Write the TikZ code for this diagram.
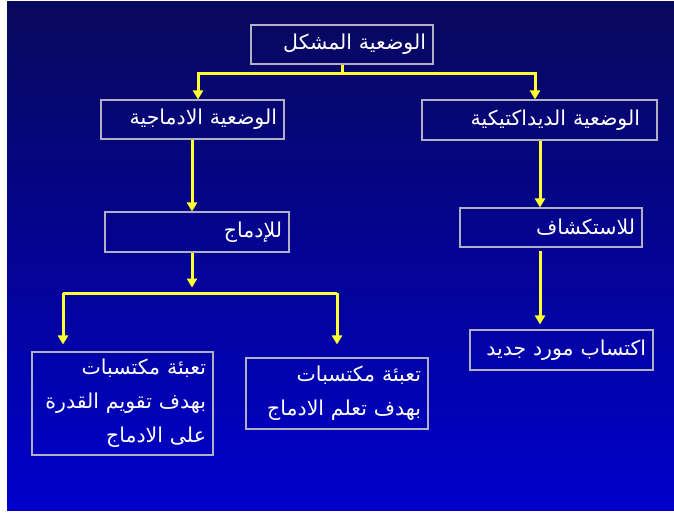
\documentclass[tikz,border=0pt]{standalone}
\usepackage{fontspec}
\newfontfamily\arabicfont[Script=Arabic]{DejaVu Sans}
\TeXXeTstate=1
\usetikzlibrary{arrows.meta}
\definecolor{bgtop}{RGB}{8,8,92}
\definecolor{bgbot}{RGB}{0,0,204}
\definecolor{boxline}{RGB}{176,176,192}
\definecolor{conn}{RGB}{255,255,50}
\begin{document}
\begin{tikzpicture}[x=1pt,y=-1pt,
  box/.style={draw=boxline, line width=1.1pt, text=white, align=right,
    inner xsep=7pt, inner ysep=0pt,
    font=\arabicfont\fontsize{20.5pt}{34pt}\selectfont},
  yline/.style={draw=conn, line width=3pt},
  yarrow/.style={yline, -{Triangle[width=10pt,length=9pt]}}]
\useasboundingbox (0,0) rectangle (674,513);
\fill[white] (0,0) rectangle (674,513);
\shade[top color=bgtop, bottom color=bgbot] (7,2) rectangle (674,510);

\node[box, text width=168pt, minimum height=39pt] (top) at (342,44.5) {\beginR الوضعية المشكل\endR};
\node[box, text width=169pt, minimum height=39pt] (lsit) at (192.5,119.5) {\beginR الوضعية الادماجية\endR};
\node[box, text width=221pt, minimum height=40pt] (rsit) at (539.5,120) {\beginR الوضعية الديداكتيكية\endR\hspace*{10pt}};
\node[box, text width=170pt, minimum height=40pt] (lint) at (197,232) {\beginR للإدماج\endR};
\node[box, text width=168pt, minimum height=39pt] (rexp) at (551,227.5) {\beginR للاستكشاف\endR};
\node[box, text width=169pt, minimum height=40pt] (racq) at (561.5,350) {\beginR اكتساب مورد جديد\endR};
\node[box, text width=167pt, minimum height=103pt] (lb1) at (122.5,403.5) {\beginR تعبئة مكتسبات\endR\\ \beginR بهدف تقويم القدرة\endR\\ \beginR على الادماج\endR};
\node[box, text width=168pt, minimum height=71pt] (lb2) at (337,393.5) {\beginR تعبئة مكتسبات\endR\\ \beginR بهدف تعلم الادماج\endR};

% top split
\coordinate (xl1) at (198,0);
\coordinate (xr1) at (535,0);
\draw[yarrow] (top.south) -- ++(0,9) -| (lsit.north -| xl1);
\draw[yarrow] (top.south) -- ++(0,9) -| (rsit.north -| xr1);

% left column
\coordinate (xl2) at (192,0);
\draw[yarrow] (lsit.south -| xl2) -- (lint.north -| xl2);
\draw[yarrow] (lint.south -| xl2) -- ++(0,35);
\coordinate (hL) at (63,293);
\coordinate (hR) at (337,293);
\draw[yline] (hL) -- (hR);
\draw[yarrow, shorten >=7pt] (hL) -- (hL |- lb1.north);
\draw[yarrow, shorten >=13pt] (hR) -- (hR |- lb2.north);

% right column
\coordinate (xr2) at (540,0);
\draw[yarrow] (rsit.south -| xr2) -- (rexp.north -| xr2);
\draw[yarrow, shorten <=3pt, shorten >=5pt] (rexp.south -| xr2) -- (racq.north -| xr2);
\end{tikzpicture}
\end{document}
